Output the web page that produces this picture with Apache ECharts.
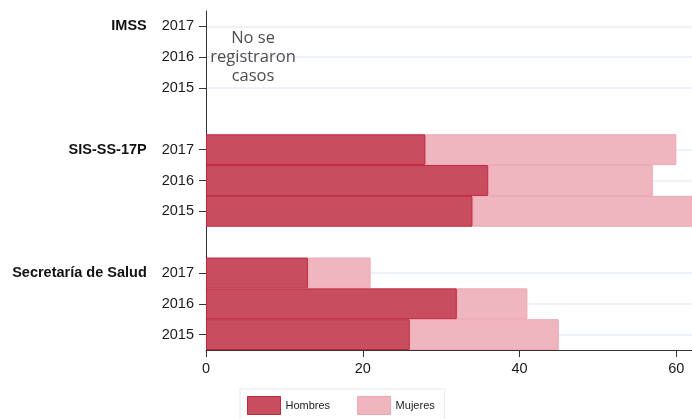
<!DOCTYPE html>
<html><head><meta charset="utf-8">
<script src="https://cdn.jsdelivr.net/npm/echarts@6/dist/echarts.min.js"></script>
<style>html,body{margin:0;padding:0;background:#fff}#c{width:692px;height:419px}</style>
</head><body><div id="c"></div>
<script>
const groups = ['IMSS', 'SIS-SS-17P', 'Secretaría de Salud'];
const years = ['2017', '2016', '2015'];
const hombresIMSS = ['-', '-', '-'];
const hombresSIS = [28, 36, 34];
const hombresSSA = [13, 32, 26];
const mujeresIMSS = ['-', '-', '-'];
const mujeresSIS = [32, 21, 29];
const mujeresSSA = [8, 9, 19];
const xTicks = [0, 20, 40, 60];
const noteText = 'No se\nregistraron\ncasos';
const noteAt = [6, 'IMSS|2016'];

const hombresByGroup = [hombresIMSS, hombresSIS, hombresSSA];
const mujeresByGroup = [mujeresIMSS, mujeresSIS, mujeresSSA];
const categories = [], hombres = [], mujeres = [];
groups.forEach((g, gi) => {
  if (gi > 0) { categories.push('gap' + gi); hombres.push('-'); mujeres.push('-'); }
  years.forEach((y, yi) => {
    categories.push(g + '|' + y);
    hombres.push(hombresByGroup[gi][yi]);
    mujeres.push(mujeresByGroup[gi][yi]);
  });
});
const isGap = c => c.indexOf('gap') === 0;

const chart = echarts.init(document.getElementById('c'), null, {renderer: 'canvas'});
chart.setOption({
  backgroundColor: '#ffffff',
  animation: false,
  textStyle: {fontFamily: '"Liberation Sans", Arial, sans-serif'},
  grid: {left: 206, right: 0, top: 11, bottom: 69, containLabel: false},
  legend: {
    data: ['Hombres', 'Mujeres'],
    left: 240, top: 389,
    padding: [7, 10, 10, 7],
    itemWidth: 33, itemHeight: 18, itemGap: 27,
    borderColor: '#e3eaef', borderWidth: 1,
    icon: 'rect',
    itemStyle: {borderWidth: 1},
    textStyle: {fontSize: 11, color: '#222', fontFamily: '"Liberation Sans", Arial, sans-serif'}
  },
  xAxis: {
    type: 'value', min: 0, max: 62,
    axisLine: {show: true, lineStyle: {color: '#333', width: 1}},
    axisTick: {show: true, length: 7, lineStyle: {color: '#333'}, customValues: xTicks},
    axisLabel: {fontSize: 14.5, color: '#1a1a1a', margin: 11, customValues: xTicks},
    splitLine: {show: false}
  },
  yAxis: {
    type: 'category', data: categories, inverse: true,
    axisLine: {show: true, lineStyle: {color: '#333', width: 1}},
    axisTick: {show: true, length: 7, alignWithLabel: true, lineStyle: {color: '#333'},
      interval: (i, v) => !isGap(v)},
    axisLabel: {
      interval: 0, margin: 12, color: '#1a1a1a', fontSize: 14.5,
      formatter: v => {
        if (isGap(v)) return '';
        const p = v.split('|');
        if (p[1] === years[0]) return '{g|' + p[0] + '}{y|' + p[1] + '}';
        return '{y|' + p[1] + '}';
      },
      rich: {
        g: {fontWeight: 'bold', fontSize: 14.5, color: '#111', padding: [0, 15, 0, 0]},
        y: {fontSize: 14.5, color: '#1a1a1a'}
      }
    },
    splitLine: {show: false}
  },
  series: [
    {
      name: 'gridlines', type: 'line', data: [], z: 0, silent: true,
      markLine: {
        z: 0, silent: true, symbol: 'none', animation: false,
        label: {show: false},
        lineStyle: {color: '#e6eef5', width: 1.5, type: 'solid'},
        data: categories.filter(c => !isGap(c)).map(c => ({yAxis: c}))
      }
    },
    {
      name: 'Hombres', type: 'bar', stack: 'total', data: hombres,
      barCategoryGap: '0%', z: 3,
      itemStyle: {color: '#c84d5e', borderColor: '#c0283f', borderWidth: 1},
      markPoint: {
        symbolSize: 0, silent: true,
        label: {show: true, position: 'inside', formatter: noteText, color: '#4d4d4d',
          fontSize: 16.5, lineHeight: 19, fontFamily: '"Open Sans", sans-serif', align: 'center'},
        data: [{coord: noteAt, value: 0}]
      }
    },
    {
      name: 'Mujeres', type: 'bar', stack: 'total', data: mujeres,
      barCategoryGap: '0%', z: 2,
      itemStyle: {color: '#f0b6c0', borderColor: '#eca7b3', borderWidth: 1}
    }
  ]
});
</script></body></html>
